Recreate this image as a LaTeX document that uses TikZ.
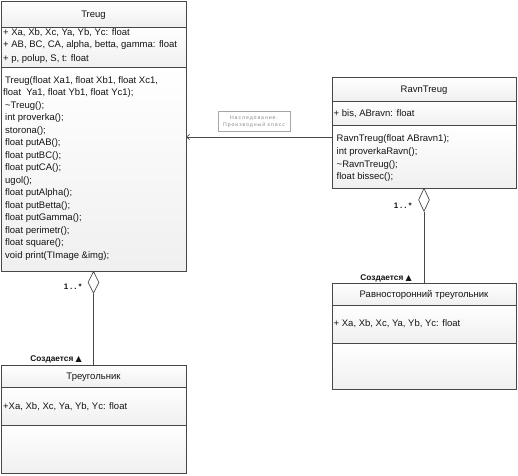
\documentclass[tikz,border=0pt]{standalone}
\usepackage{fontspec}
\setmainfont{Liberation Sans}
\newfontfamily\symfont{DejaVu Sans}
\usetikzlibrary{arrows.meta,shapes.geometric}
\definecolor{edge}{HTML}{474747}
\definecolor{txtc}{HTML}{141414}
\definecolor{lblc}{HTML}{8A8A8A}
\begin{document}
\begin{tikzpicture}[x=1pt,y=-1pt,
  comp/.style={draw=edge, line width=0.8pt, top color=white, bottom color=black!6,
    anchor=north west, inner sep=0pt, outer sep=0pt},
  txt/.style={font=\fontsize{9.5}{11}\selectfont, anchor=base west, inner sep=0pt, text=txtc},
  ttl/.style={font=\fontsize{9.5}{11}\selectfont, anchor=base, inner sep=0pt, text=txtc},
  conn/.style={draw=edge, line width=0.7pt},
  agg/.style={diamond, draw=edge, line width=0.7pt, fill=white, inner sep=0pt,
    minimum width=11pt, minimum height=22pt, anchor=north},
  mult/.style={font=\bfseries\fontsize{8}{9}\selectfont\addfontfeature{LetterSpace=25}, anchor=base east, inner sep=0pt, text=txtc},
  role/.style={font=\bfseries\fontsize{8.3}{9}\selectfont, anchor=base east, inner sep=0pt, text=txtc},
  lblbox/.style={draw=black!35, line width=0.6pt, fill=white, inner sep=0pt,
    minimum width=72pt, minimum height=20pt, align=center, text=lblc,
    font=\fontsize{5.2}{6.6}\selectfont\addfontfeature{LetterSpace=18}}
]
\useasboundingbox (0,0) rectangle (518,475);

% ---------- Treug ----------
\node[comp, minimum width=185pt, minimum height=26pt] (treugT) at (1,1) {};
\node[comp, minimum width=185pt, minimum height=40pt] (treugA) at (1,27) {};
\node[comp, minimum width=185pt, minimum height=204pt] (treugO) at (1,67) {};
\node[ttl] (treugN) at (93.5,17.3) {Treug};
\node[txt] (ta1) at (3,35) {+ Xa, Xb, Xc, Ya, Yb, Yc: float};
\node[txt] (ta2) at (3,47.6) {+ AB, BC, CA, alpha, betta, gamma: float};
\node[txt] (ta3) at (3,61.6) {+ p, polup, S, t: float};
\node[txt] (to1) at (5,83.3) {Treug(float Xa1, float Xb1, float Xc1,};
\node[txt] (to2) at (3,95.8) {float\ \ Ya1, float Yb1, float Yc1);};
\node[txt] (to3) at (5,108.3) {\textasciitilde Treug();};
\node[txt] (to4) at (5,120.8) {int proverka();};
\node[txt] (to5) at (5,133.3) {storona();};
\node[txt] (to6) at (5,145.8) {float putAB();};
\node[txt] (to7) at (5,158.3) {float putBC();};
\node[txt] (to8) at (5,170.8) {float putCA();};
\node[txt] (to9) at (5,183.3) {ugol();};
\node[txt] (to10) at (5,195.8) {float putAlpha();};
\node[txt] (to11) at (5,208.3) {float putBetta();};
\node[txt] (to12) at (5,220.8) {float putGamma();};
\node[txt] (to13) at (5,233.3) {float perimetr();};
\node[txt] (to14) at (5,245.8) {float square();};
\node[txt] (to15) at (5,258.3) {void print(TImage \&img);};

% ---------- RavnTreug ----------
\node[comp, minimum width=184pt, minimum height=24pt] (ravnT) at (332,77) {};
\node[comp, minimum width=184pt, minimum height=24pt] (ravnA) at (332,101) {};
\node[comp, minimum width=184pt, minimum height=63pt] (ravnO) at (332,125) {};
\node[ttl] (ravnN) at (424,92.3) {RavnTreug};
\node[txt] (ra1) at (333.5,116.3) {+ bis, ABravn: float};
\node[txt] (ro1) at (336.5,141.6) {RavnTreug(float ABravn1);};
\node[txt] (ro2) at (336.5,154.3) {int proverkaRavn();};
\node[txt] (ro3) at (336.5,167) {\textasciitilde RavnTreug();};
\node[txt] (ro4) at (336.5,179.7) {float bissec();};

% ---------- Треугольник ----------
\node[comp, minimum width=185pt, minimum height=22pt] (triT) at (1,365) {};
\node[comp, minimum width=185pt, minimum height=38pt] (triA) at (1,387) {};
\node[comp, minimum width=185pt, minimum height=48pt] (triE) at (1,425) {};
\node[ttl] (triN) at (93.5,379.3) {Треугольник};
\node[txt] (tra1) at (3,409.3) {+Xa, Xb, Xc, Ya, Yb, Yc: float};

% ---------- Равносторонний треугольник ----------
\node[comp, minimum width=184pt, minimum height=22pt] (eqT) at (332,283) {};
\node[comp, minimum width=184pt, minimum height=38pt] (eqA) at (332,305) {};
\node[comp, minimum width=184pt, minimum height=46pt] (eqE) at (332,343) {};
\node[ttl] (eqN) at (424,297.3) {Равносторонний треугольник};
\node[txt] (eqa1) at (333.5,326.3) {+ Xa, Xb, Xc, Ya, Yb, Yc: float};

% ---------- inheritance ----------
\coordinate (inhR) at ([yshift=-12pt]ravnO.north west);
\coordinate (inhL) at (treugO.east |- inhR);
\draw[conn, -{Straight Barb[length=3pt,width=5pt]}] (inhR) -- (inhL);
\node[lblbox] (inhlbl) at (254,121.5) {Наследование.\\Производный класс};

% ---------- aggregations ----------
\node[agg] (d1) at (treugO.south) {};
\draw[conn] (d1.south) -- (d1.south |- triT.north);
\node[mult] (m1) at (82,289) {1..*};
\node[role] (r1) at (82,361) {Создается {\symfont\fontsize{8}{8}\selectfont ▲}};

\node[agg, minimum height=23pt] (d2) at (ravnO.south) {};
\draw[conn] (d2.south) -- (d2.south |- eqT.north);
\node[mult] (m2) at (412,208) {1..*};
\node[role] (r2) at (412,280) {Создается {\symfont\fontsize{8}{8}\selectfont ▲}};
\end{tikzpicture}
\end{document}
